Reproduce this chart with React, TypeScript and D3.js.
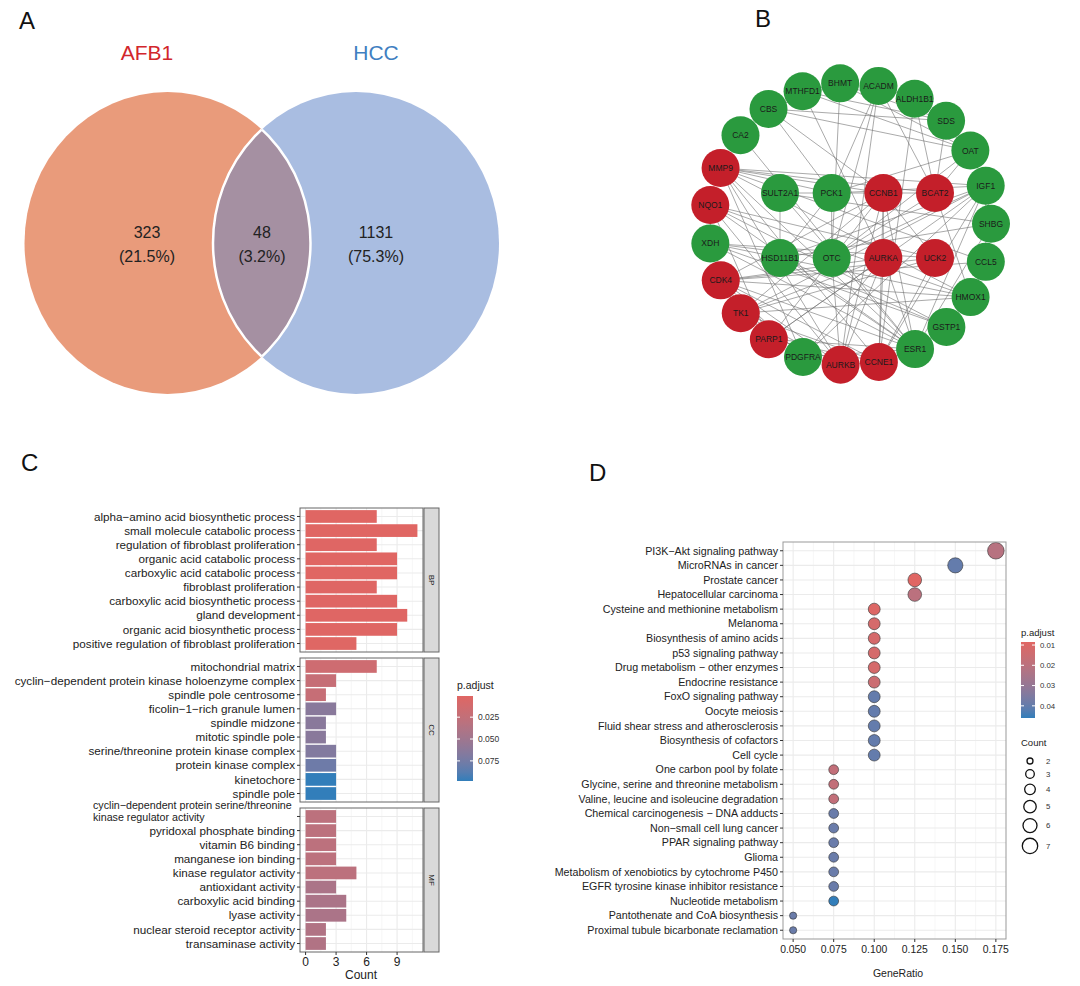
import React from 'react';
import * as d3 from 'd3';

// ---------- Panel A: Venn ----------
const vennSets = ['AFB1', 'HCC'];
const vennCounts = [323, 48, 1131];
const vennPct = ['21.5%', '3.2%', '75.3%'];

// ---------- Panel B: PPI network ----------
const ringGenes = [
  'BHMT', 'ACADM', 'ALDH1B1', 'SDS', 'OAT', 'IGF1', 'SHBG', 'CCL5', 'HMOX1', 'GSTP1', 'ESR1', 'CCNE1',
  'AURKB', 'PDGFRA', 'PARP1', 'TK1', 'CDK4', 'XDH', 'NQO1', 'MMP9', 'CA2', 'CBS', 'MTHFD1',
];
const coreGenes = [
  ['SULT2A1', 'PCK1', 'CCNB1', 'BCAT2'],
  ['HSD11B1', 'OTC', 'AURKA', 'UCK2'],
];
const hubGenes = ['MMP9', 'NQO1', 'CDK4', 'TK1', 'PARP1', 'AURKB', 'CCNE1', 'CCNB1', 'BCAT2', 'AURKA', 'UCK2'];
const ppiEdges: [string, string][] = [
  ['CCNB1', 'AURKA'], ['CCNB1', 'AURKB'], ['CCNB1', 'CCNE1'], ['CCNB1', 'CDK4'], ['CCNB1', 'TK1'], ['CCNB1', 'UCK2'],
  ['AURKA', 'AURKB'], ['AURKA', 'CCNE1'], ['AURKA', 'CDK4'], ['AURKA', 'TK1'], ['AURKA', 'PARP1'],
  ['AURKB', 'CCNE1'], ['AURKB', 'CDK4'], ['AURKB', 'TK1'], ['CCNE1', 'CDK4'], ['CCNE1', 'TK1'],
  ['CDK4', 'TK1'], ['CDK4', 'PARP1'], ['TK1', 'UCK2'], ['PARP1', 'CCNB1'], ['PARP1', 'CCNE1'],
  ['ESR1', 'CCNB1'], ['ESR1', 'CCNE1'], ['ESR1', 'CDK4'], ['ESR1', 'AURKA'], ['ESR1', 'MMP9'],
  ['ESR1', 'IGF1'], ['ESR1', 'GSTP1'], ['ESR1', 'NQO1'], ['ESR1', 'PARP1'], ['ESR1', 'SHBG'],
  ['ESR1', 'PDGFRA'], ['ESR1', 'HSD11B1'], ['ESR1', 'SULT2A1'], ['ESR1', 'XDH'],
  ['MMP9', 'IGF1'], ['MMP9', 'BCAT2'], ['MMP9', 'PCK1'], ['MMP9', 'HMOX1'], ['MMP9', 'CCL5'],
  ['MMP9', 'PDGFRA'], ['MMP9', 'CCNE1'], ['MMP9', 'AURKB'], ['MMP9', 'CCNB1'],
  ['NQO1', 'HMOX1'], ['NQO1', 'GSTP1'], ['NQO1', 'XDH'], ['NQO1', 'PARP1'], ['NQO1', 'UCK2'], ['NQO1', 'AURKB'],
  ['IGF1', 'HSD11B1'], ['IGF1', 'OTC'], ['IGF1', 'PDGFRA'], ['IGF1', 'SHBG'], ['IGF1', 'CCL5'],
  ['IGF1', 'PCK1'], ['IGF1', 'CCNE1'], ['IGF1', 'PARP1'], ['IGF1', 'TK1'],
  ['CBS', 'BHMT'], ['CBS', 'MTHFD1'], ['CBS', 'CCNB1'], ['CBS', 'PCK1'], ['CBS', 'OAT'], ['CBS', 'SDS'],
  ['BHMT', 'MTHFD1'], ['BHMT', 'OAT'], ['BHMT', 'OTC'], ['BHMT', 'SDS'], ['MTHFD1', 'OAT'],
  ['MTHFD1', 'SDS'], ['MTHFD1', 'AURKA'], ['ACADM', 'PCK1'], ['ACADM', 'OTC'], ['ACADM', 'ALDH1B1'],
  ['ACADM', 'BCAT2'], ['ACADM', 'AURKB'], ['ALDH1B1', 'OAT'], ['ALDH1B1', 'BCAT2'], ['ALDH1B1', 'CCNE1'],
  ['SDS', 'OAT'], ['SDS', 'BCAT2'], ['OAT', 'OTC'], ['OAT', 'BCAT2'], ['OAT', 'PCK1'],
  ['BCAT2', 'OTC'], ['BCAT2', 'PCK1'], ['BCAT2', 'HMOX1'], ['PCK1', 'OTC'], ['PCK1', 'HSD11B1'],
  ['PCK1', 'SULT2A1'], ['OTC', 'XDH'], ['OTC', 'AURKB'], ['HSD11B1', 'SULT2A1'], ['CA2', 'ESR1'],
  ['HMOX1', 'CCL5'], ['HMOX1', 'GSTP1'], ['HMOX1', 'XDH'], ['HMOX1', 'CDK4'], ['GSTP1', 'XDH'],
  ['GSTP1', 'HSD11B1'], ['SHBG', 'SULT2A1'], ['SHBG', 'HSD11B1'], ['PDGFRA', 'CDK4'], ['PDGFRA', 'AURKA'],
  ['UCK2', 'CCNE1'], ['UCK2', 'CDK4'], ['XDH', 'UCK2'], ['CCL5', 'CDK4'], ['TK1', 'HMOX1'],
];

// ---------- Panel C: GO barplot ----------
const bpTerms = [
  'alpha\u2212amino acid biosynthetic process', 'small molecule catabolic process',
  'regulation of fibroblast proliferation', 'organic acid catabolic process',
  'carboxylic acid catabolic process', 'fibroblast proliferation',
  'carboxylic acid biosynthetic process', 'gland development',
  'organic acid biosynthetic process', 'positive regulation of fibroblast proliferation',
];
const bpCount = [7, 11, 7, 9, 9, 7, 9, 10, 9, 5];
const bpPadj = [0.0012, 0.0008, 0.0015, 0.0012, 0.0012, 0.0018, 0.0014, 0.0016, 0.0014, 0.002];

const ccTerms = [
  'mitochondrial matrix', 'cyclin\u2212dependent protein kinase holoenzyme complex',
  'spindle pole centrosome', 'ficolin\u22121\u2212rich granule lumen', 'spindle midzone',
  'mitotic spindle pole', 'serine/threonine protein kinase complex', 'protein kinase complex',
  'kinetochore', 'spindle pole',
];
const ccCount = [7, 3, 2, 3, 2, 2, 3, 3, 3, 3];
const ccPadj = [0.016, 0.022, 0.022, 0.064, 0.064, 0.064, 0.068, 0.078, 0.098, 0.098];

const mfTerms = [
  'cyclin\u2212dependent protein serine/threonine\nkinase regulator activity',
  'pyridoxal phosphate binding', 'vitamin B6 binding', 'manganese ion binding',
  'kinase regulator activity', 'antioxidant activity', 'carboxylic acid binding',
  'lyase activity', 'nuclear steroid receptor activity', 'transaminase activity',
];
const mfCount = [3, 3, 3, 3, 5, 3, 4, 4, 2, 2];
const mfPadj = [0.03, 0.03, 0.03, 0.03, 0.03, 0.042, 0.042, 0.042, 0.038, 0.038];

const goTicks = [0, 3, 6, 9];
const goLegendTicks = [0.025, 0.05, 0.075];

// ---------- Panel D: KEGG dotplot ----------
const keggTerms = [
  'PI3K\u2212Akt signaling pathway', 'MicroRNAs in cancer', 'Prostate cancer', 'Hepatocellular carcinoma',
  'Cysteine and methionine metabolism', 'Melanoma', 'Biosynthesis of amino acids', 'p53 signaling pathway',
  'Drug metabolism \u2212 other enzymes', 'Endocrine resistance', 'FoxO signaling pathway', 'Oocyte meiosis',
  'Fluid shear stress and atherosclerosis', 'Biosynthesis of cofactors', 'Cell cycle',
  'One carbon pool by folate', 'Glycine, serine and threonine metabolism',
  'Valine, leucine and isoleucine degradation', 'Chemical carcinogenesis \u2212 DNA adducts',
  'Non\u2212small cell lung cancer', 'PPAR signaling pathway', 'Glioma',
  'Metabolism of xenobiotics by cytochrome P450', 'EGFR tyrosine kinase inhibitor resistance',
  'Nucleotide metabolism', 'Pantothenate and CoA biosynthesis', 'Proximal tubule bicarbonate reclamation',
];
const keggRatio = [0.175, 0.15, 0.125, 0.125, 0.1, 0.1, 0.1, 0.1, 0.1, 0.1, 0.1, 0.1, 0.1, 0.1, 0.1,
  0.075, 0.075, 0.075, 0.075, 0.075, 0.075, 0.075, 0.075, 0.075, 0.075, 0.05, 0.05];
const keggCount = [7, 6, 5, 5, 4, 4, 4, 4, 4, 4, 4, 4, 4, 4, 4, 3, 3, 3, 3, 3, 3, 3, 3, 3, 3, 2, 2];
const keggPadj = [0.021, 0.04, 0.0085, 0.02, 0.0095, 0.012, 0.012, 0.012, 0.012, 0.015, 0.04, 0.04, 0.04,
  0.04, 0.04, 0.018, 0.018, 0.018, 0.039, 0.039, 0.039, 0.039, 0.039, 0.039, 0.046, 0.039, 0.039];
const keggTicks = [0.05, 0.075, 0.1, 0.125, 0.15, 0.175];
const keggLegendTicks = [0.01, 0.02, 0.03, 0.04];
const countLegend = [2, 3, 4, 5, 6, 7];

const LOW = '#e06663';
const HIGH = '#327eba';
const FONT = '"Liberation Sans", Arial, Helvetica, sans-serif';
const TXT = '#222';

export default function App() {
  // ----- Venn geometry
  const venn = { lx: 167.5, rx: 356, cy: 243, ex: 143, ey: 151 };

  // ----- Network layout
  const ringAngle = d3.scaleLinear().domain([0, ringGenes.length]).range([-4, 356]);
  const ring = { cx: 850, cy: 224, r: 141 };
  const pos: Record<string, [number, number]> = {};
  ringGenes.forEach((g, i) => {
    const a = (ringAngle(i) * Math.PI) / 180;
    pos[g] = [ring.cx + ring.r * Math.sin(a), ring.cy - ring.r * Math.cos(a)];
  });
  const coreX = d3.scalePoint<number>().domain([0, 1, 2, 3]).range([780, 935]);
  const coreY = d3.scalePoint<number>().domain([0, 1]).range([193, 258]);
  coreGenes.forEach((row, ri) => row.forEach((g, ci) => { pos[g] = [coreX(ci)!, coreY(ri)!]; }));
  const allGenes = [...ringGenes, ...coreGenes.flat()];

  // ----- GO barplot scales
  const goX = d3.scaleLinear().domain([-0.55, 11.55]).range([300, 423]);
  const allGoP = [...bpPadj, ...ccPadj, ...mfPadj];
  const goExt = d3.extent(allGoP) as [number, number];
  const goColor = d3.scaleLinear<string>().domain(goExt).range([LOW, HIGH]).interpolate(d3.interpolateLab);
  const goPanels = [
    { name: 'BP', terms: bpTerms, count: bpCount, p: bpPadj, top: 508 },
    { name: 'CC', terms: ccTerms, count: ccCount, p: ccPadj, top: 658 },
    { name: 'MF', terms: mfTerms, count: mfCount, p: mfPadj, top: 808 },
  ];
  const goH = 144;
  const goLeg = d3.scaleLinear().domain(goExt).range([696, 781]);

  // ----- KEGG dotplot scales
  const dX = d3.scaleLinear().domain([0.04375, 0.18125]).range([783, 1006]);
  const dY = d3.scalePoint<string>().domain(keggTerms).range([542, 939]).padding(0.6);
  const dExt = d3.extent(keggPadj) as [number, number];
  const dColor = d3.scaleLinear<string>().domain(dExt).range([LOW, HIGH]).interpolate(d3.interpolateLab);
  const area = d3.scaleLinear().domain([2, 7]).range([3.6 * 3.6, 8.3 * 8.3]);
  const rad = (c: number) => Math.sqrt(area(c));
  const dLeg = d3.scaleLinear().domain(dExt).range([642, 718]);
  const legY: number[] = [];
  countLegend.forEach((c, i) => {
    legY.push(i === 0 ? 761 : legY[i - 1] + rad(countLegend[i - 1]) + rad(c) + 4.5);
  });
  const minor = (t: number[]) => t.slice(0, -1).map((v, i) => (v + t[i + 1]) / 2);

  return (
    <svg width={1080} height={986} style={{ position: 'absolute', left: 0, top: 0, background: '#fff' }} fontFamily={FONT}>
      <defs>
        <clipPath id="clipL"><ellipse cx={venn.lx} cy={venn.cy} rx={venn.ex} ry={venn.ey} /></clipPath>
        <clipPath id="clipR"><ellipse cx={venn.rx} cy={venn.cy} rx={venn.ex} ry={venn.ey} /></clipPath>
        <linearGradient id="goGrad" x1="0" y1="0" x2="0" y2="1">
          {d3.range(0, 1.01, 0.1).map((t) => (
            <stop key={t} offset={t} stopColor={goColor(goExt[0] + t * (goExt[1] - goExt[0]))} />
          ))}
        </linearGradient>
        <linearGradient id="dGrad" x1="0" y1="0" x2="0" y2="1">
          {d3.range(0, 1.01, 0.1).map((t) => (
            <stop key={t} offset={t} stopColor={dColor(dExt[0] + t * (dExt[1] - dExt[0]))} />
          ))}
        </linearGradient>
      </defs>

      {/* panel letters */}
      <g fontSize={24} fill="#111">
        <text x={19} y={29}>A</text>
        <text x={755} y={27}>B</text>
        <text x={21} y={471}>C</text>
        <text x={589} y={481}>D</text>
      </g>

      {/* ===== A: Venn ===== */}
      <ellipse cx={venn.lx} cy={venn.cy} rx={venn.ex} ry={venn.ey} fill="#E99B7B" />
      <ellipse cx={venn.rx} cy={venn.cy} rx={venn.ex} ry={venn.ey} fill="#A9BDE1" />
      <g clipPath="url(#clipR)">
        <ellipse cx={venn.lx} cy={venn.cy} rx={venn.ex} ry={venn.ey} fill="#A590A2" stroke="#fff" strokeWidth={2.5} />
      </g>
      <g clipPath="url(#clipL)">
        <ellipse cx={venn.rx} cy={venn.cy} rx={venn.ex} ry={venn.ey} fill="none" stroke="#fff" strokeWidth={2.5} />
      </g>
      <text x={147} y={60} fontSize={21} fill="#D2262C" textAnchor="middle">{vennSets[0]}</text>
      <text x={376} y={60} fontSize={21} fill="#3F7FC1" textAnchor="middle">{vennSets[1]}</text>
      {[147, 262, 376].map((x, i) => (
        <g key={i} fontSize={16} fill="#222" textAnchor="middle">
          <text x={x} y={238}>{vennCounts[i]}</text>
          <text x={x} y={262}>({vennPct[i]})</text>
        </g>
      ))}

      {/* ===== B: network ===== */}
      <g stroke="#6f6f6f" strokeWidth={0.7} strokeOpacity={0.85}>
        {ppiEdges.map(([a, b], i) => (
          <line key={i} x1={pos[a][0]} y1={pos[a][1]} x2={pos[b][0]} y2={pos[b][1]} />
        ))}
      </g>
      {allGenes.map((g) => (
        <g key={g} transform={`translate(${pos[g][0]},${pos[g][1]})`}>
          <circle r={19} fill={hubGenes.includes(g) ? '#C41F2A' : '#2A9A3E'} />
          <text fontSize={8.5} textAnchor="middle" dy="0.35em" fill="#1a1a1a">{g}</text>
        </g>
      ))}

      {/* ===== C: GO barplot ===== */}
      {goPanels.map((pnl) => {
        const y = d3.scalePoint<string>().domain(pnl.terms).range([pnl.top, pnl.top + goH]).padding(0.6);
        const bh = y.step() * 0.9;
        return (
          <g key={pnl.name}>
            <rect x={300} y={pnl.top} width={123} height={goH} fill="#fff" />
            {minor(goTicks.concat([12])).map((v) => (
              <line key={'m' + v} x1={goX(v)} x2={goX(v)} y1={pnl.top} y2={pnl.top + goH} stroke="#F2F2F2" strokeWidth={0.6} />
            ))}
            {goTicks.map((v) => (
              <line key={v} x1={goX(v)} x2={goX(v)} y1={pnl.top} y2={pnl.top + goH} stroke="#EBEBEB" strokeWidth={1.1} />
            ))}
            {pnl.terms.map((t) => (
              <line key={t} x1={300} x2={423} y1={y(t)} y2={y(t)} stroke="#EBEBEB" strokeWidth={1.1} />
            ))}
            {pnl.terms.map((t, i) => (
              <rect key={'b' + t} x={goX(0)} y={y(t)! - bh / 2} width={goX(pnl.count[i]) - goX(0)} height={bh} fill={goColor(pnl.p[i])} />
            ))}
            <rect x={300} y={pnl.top} width={123} height={goH} fill="none" stroke="#666" strokeWidth={1} />
            <rect x={424} y={pnl.top} width={15} height={goH} fill="#D9D9D9" stroke="#666" strokeWidth={1} />
            <text transform={`translate(431.5,${pnl.top + goH / 2}) rotate(90)`} fontSize={8} textAnchor="middle" dy="0.35em" fill="#1a1a1a">{pnl.name}</text>
            {pnl.terms.map((t) => {
              const yy = y(t)!;
              const lines = t.split('\n');
              return (
                <g key={'l' + t}>
                  <line x1={297} x2={300} y1={yy} y2={yy} stroke="#333" strokeWidth={1} />
                  {lines.length === 1 ? (
                    <text x={295} y={yy} dy="0.35em" textAnchor="end" fontSize={11.7} fill={TXT}>{t}</text>
                  ) : (
                    <text x={93} y={yy - 7} fontSize={10.7} fill={TXT}>
                      {lines.map((ln, k) => (
                        <tspan key={k} x={93} dy={k === 0 ? 0 : 11.5}>{ln}</tspan>
                      ))}
                    </text>
                  )}
                </g>
              );
            })}
          </g>
        );
      })}
      {goTicks.map((v) => (
        <g key={'gx' + v}>
          <line x1={goX(v)} x2={goX(v)} y1={952} y2={955} stroke="#333" />
          <text x={goX(v)} y={966} fontSize={12} textAnchor="middle" fill={TXT}>{v}</text>
        </g>
      ))}
      <text x={361} y={979} fontSize={12} textAnchor="middle" fill={TXT}>Count</text>
      {/* GO legend */}
      <text x={457} y={689} fontSize={10.5} fill={TXT}>p.adjust</text>
      <rect x={457} y={696} width={16} height={85} fill="url(#goGrad)" />
      {goLegendTicks.map((v) => (
        <g key={'gl' + v}>
          <line x1={457} x2={460} y1={goLeg(v)} y2={goLeg(v)} stroke="#fff" />
          <line x1={470} x2={473} y1={goLeg(v)} y2={goLeg(v)} stroke="#fff" />
          <text x={478} y={goLeg(v)} dy="0.35em" fontSize={8.5} fill="#333">{d3.format('.3f')(v)}</text>
        </g>
      ))}

      {/* ===== D: KEGG dotplot ===== */}
      {minor(keggTicks).map((v) => (
        <line key={'dm' + v} x1={dX(v)} x2={dX(v)} y1={542} y2={939} stroke="#F2F2F2" strokeWidth={0.6} />
      ))}
      {keggTicks.map((v) => (
        <line key={'dv' + v} x1={dX(v)} x2={dX(v)} y1={542} y2={939} stroke="#EBEBEB" strokeWidth={1.1} />
      ))}
      {keggTerms.map((t) => (
        <line key={'dh' + t} x1={783} x2={1006} y1={dY(t)} y2={dY(t)} stroke="#EBEBEB" strokeWidth={1.1} />
      ))}
      {keggTerms.map((t, i) => (
        <circle key={'dc' + t} cx={dX(keggRatio[i])} cy={dY(t)} r={rad(keggCount[i])} fill={dColor(keggPadj[i])} stroke="#333" strokeWidth={0.6} />
      ))}
      <rect x={783} y={542} width={223} height={397} fill="none" stroke="#999" strokeWidth={1} />
      {keggTerms.map((t) => (
        <g key={'dl' + t}>
          <line x1={780} x2={783} y1={dY(t)} y2={dY(t)} stroke="#333" />
          <text x={778} y={dY(t)} dy="0.35em" textAnchor="end" fontSize={10.7} fill={TXT}>{t}</text>
        </g>
      ))}
      {keggTicks.map((v) => (
        <g key={'dx' + v}>
          <line x1={dX(v)} x2={dX(v)} y1={939} y2={942} stroke="#333" />
          <text x={dX(v)} y={953} fontSize={10.4} textAnchor="middle" fill={TXT}>{d3.format('.3f')(v)}</text>
        </g>
      ))}
      <text x={898} y={977} fontSize={10.5} textAnchor="middle" fill={TXT}>GeneRatio</text>
      {/* D legends */}
      <text x={1021} y={636} fontSize={9.5} fill={TXT}>p.adjust</text>
      <rect x={1021} y={642} width={14} height={76} fill="url(#dGrad)" />
      {keggLegendTicks.map((v) => (
        <g key={'dlg' + v}>
          <line x1={1021} x2={1024} y1={dLeg(v)} y2={dLeg(v)} stroke="#fff" />
          <line x1={1032} x2={1035} y1={dLeg(v)} y2={dLeg(v)} stroke="#fff" />
          <text x={1040} y={dLeg(v)} dy="0.35em" fontSize={7.8} fill="#333">{d3.format('.2f')(v)}</text>
        </g>
      ))}
      <text x={1021} y={746} fontSize={9.5} fill={TXT}>Count</text>
      {countLegend.map((c, i) => (
        <g key={'cl' + c}>
          <circle cx={1030} cy={legY[i]} r={rad(c) - 0.6} fill="#fff" stroke="#111" strokeWidth={1.3} />
          <text x={1046} y={legY[i]} dy="0.35em" fontSize={7.8} fill="#333">{c}</text>
        </g>
      ))}
    </svg>
  );
}
